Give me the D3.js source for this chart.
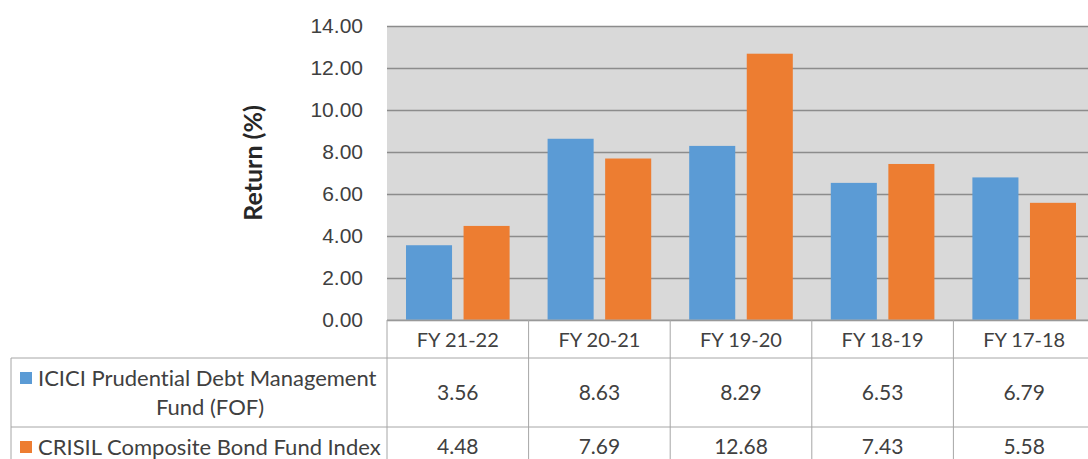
<!DOCTYPE html>
<html>
<head>
<meta charset="utf-8">
<script src="https://cdn.jsdelivr.net/npm/d3@7"></script>
<style>
    body { margin: 0; background: #fff; }
    svg { display: block; font-family: Lato, 'Open Sans', sans-serif; font-variant-ligatures: none; }
</style>
</head>
<body>
<div id="chart"></div>
<script>
const categories = ['FY 21-22', 'FY 20-21', 'FY 19-20', 'FY 18-19', 'FY 17-18']
const seriesNames = ['ICICI Prudential Debt Management Fund (FOF)', 'CRISIL Composite Bond Fund Index']
const fundReturns = [3.56, 8.63, 8.29, 6.53, 6.79]
const indexReturns = [4.48, 7.69, 12.68, 7.43, 5.58]
const yTicks = [0, 2, 4, 6, 8, 10, 12, 14]
const colors = ['#5b9bd5', '#ed7d31']

const width = 1088
const height = 459
const plot = { left: 387, top: 26, bottom: 320, step: 141.6 }

const series = seriesNames.map((name, i) => ({
    name: name,
    color: colors[i],
    values: i == 0 ? fundReturns : indexReturns
}))

const svg = d3.select('#chart').append('svg')
    .attr('width', width)
    .attr('height', height)

const x0 = d3.scaleBand()
    .domain(categories)
    .range([plot.left, plot.left + plot.step * categories.length])
    .padding(0)

const x1 = d3.scaleBand()
    .domain(seriesNames)
    .range([0, x0.bandwidth()])
    .paddingInner(0.2)
    .paddingOuter(0.33)

const y = d3.scaleLinear()
    .domain([0, 14])
    .range([plot.bottom, plot.top])

// plot background
svg.append('rect')
    .attr('x', plot.left)
    .attr('y', y(14))
    .attr('width', x0.range()[1] - plot.left)
    .attr('height', y(0) - y(14))
    .attr('fill', '#d9d9d9')

// gridlines + tick labels
const yAxis = svg.append('g')
    .attr('transform', `translate(${plot.left},0)`)
    .call(d3.axisLeft(y)
        .tickValues(yTicks)
        .tickFormat(d3.format('.2f'))
        .tickSize(-(x0.range()[1] - plot.left))
        .tickPadding(24))
yAxis.select('.domain').remove()
yAxis.selectAll('.tick line')
    .attr('stroke', '#8c8c8c')
    .attr('stroke-width', 1.5)
yAxis.selectAll('.tick text')
    .attr('fill', '#404040')
    .style('font-size', '21px')

svg.append('text')
    .attr('transform', `translate(253,163) rotate(-90)`)
    .attr('dy', '0.35em')
    .attr('text-anchor', 'middle')
    .attr('fill', '#262626')
    .style('font-size', '25px')
    .style('font-weight', 'bold')
    .text('Return (%)')

// bars
const groups = svg.selectAll('g.cat')
    .data(categories)
    .enter()
    .append('g')
    .attr('class', 'cat')
    .attr('transform', (d) => `translate(${x0(d)},0)`)

groups.selectAll('rect')
    .data((d, i) => series.map((s) => ({ name: s.name, color: s.color, value: s.values[i] })))
    .enter()
    .append('rect')
    .attr('x', (d) => x1(d.name))
    .attr('width', x1.bandwidth())
    .attr('y', (d) => y(d.value))
    .attr('height', (d) => y(0) - y(d.value))
    .attr('fill', (d) => d.color)

// data table
const tableLeft = 11
const tableRight = x0.range()[1]
const rowLines = [358, 427]
const rowCenters = [393, 447]
const lineColor = '#a6a6a6'

const table = svg.append('g')

table.append('line')
    .attr('x1', plot.left).attr('x2', tableRight)
    .attr('y1', y(0)).attr('y2', y(0))
    .attr('stroke', lineColor)

rowLines.forEach((ry) => {
    table.append('line')
        .attr('x1', tableLeft).attr('x2', tableRight)
        .attr('y1', ry).attr('y2', ry)
        .attr('stroke', lineColor)
})

table.append('line')
    .attr('x1', tableLeft).attr('x2', tableLeft)
    .attr('y1', rowLines[0]).attr('y2', height)
    .attr('stroke', lineColor)

table.selectAll('line.col')
    .data(categories.concat(['end']))
    .enter()
    .append('line')
    .attr('class', 'col')
    .attr('x1', (d, i) => plot.left + i * x0.step())
    .attr('x2', (d, i) => plot.left + i * x0.step())
    .attr('y1', y(0))
    .attr('y2', height)
    .attr('stroke', lineColor)

table.selectAll('text.cat')
    .data(categories)
    .enter()
    .append('text')
    .attr('class', 'cat')
    .attr('x', (d) => x0(d) + x0.bandwidth() / 2)
    .attr('y', 340)
    .attr('dy', '0.35em')
    .attr('text-anchor', 'middle')
    .attr('fill', '#404040')
    .style('font-size', '20px')
    .text((d) => d)

series.forEach((s, si) => {
    table.selectAll('text.v' + si)
        .data(s.values)
        .enter()
        .append('text')
        .attr('class', 'v' + si)
        .attr('x', (d, i) => x0(categories[i]) + x0.bandwidth() / 2)
        .attr('y', rowCenters[si])
        .attr('dy', '0.35em')
        .attr('text-anchor', 'middle')
        .attr('fill', '#404040')
        .style('font-size', '21px')
        .text((d) => d.toFixed(2))
})

// row labels with legend keys
const labelLines = [
    ['ICICI Prudential Debt Management', 'Fund (FOF)'],
    ['CRISIL Composite Bond Fund Index']
]
const labelY = [[378, 407], [447]]

series.forEach((s, si) => {
    table.append('rect')
        .attr('x', 20)
        .attr('y', labelY[si][0] - 6)
        .attr('width', 12)
        .attr('height', 12)
        .attr('fill', s.color)
    labelLines[si].forEach((t, li) => {
        table.append('text')
            .attr('x', li == 0 ? 38 : 210)
            .attr('y', labelY[si][li])
            .attr('dy', '0.35em')
            .attr('text-anchor', li == 0 ? 'start' : 'middle')
            .attr('fill', '#404040')
            .style('font-size', '22px')
            .text(t)
    })
})
</script>
</body>
</html>
